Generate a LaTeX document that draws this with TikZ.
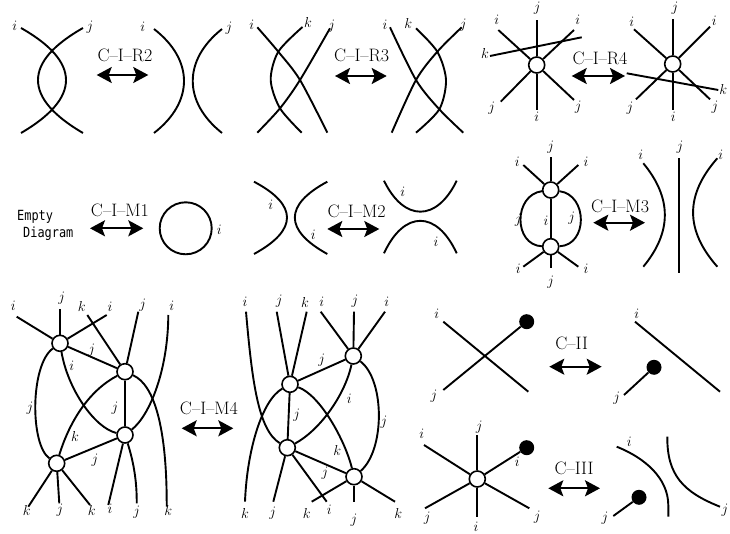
\documentclass[tikz,border=0pt]{standalone}
\usepackage{fontspec}
\newfontfamily\gothic[FakeStretch=0.85]{DejaVu Sans Mono}
\usetikzlibrary{arrows.meta}
\tikzset{
  strand/.style={line width=1.9pt},
  vtx/.style={circle, draw, fill=white, line width=1.6pt, minimum size=16pt, inner sep=0pt},
  bead/.style={circle, fill=black, minimum size=15pt, inner sep=0pt},
  lab/.style={font=\fontsize{14}{14}\selectfont, inner sep=0pt},
  mv/.style={font=\fontsize{18}{18}\selectfont, inner sep=0pt},
  swap/.style={{Stealth[length=15pt,width=16pt,inset=3pt]}-{Stealth[length=15pt,width=16pt,inset=3pt]}, line width=2pt},
  empt/.style={font=\gothic\fontsize{14}{14}\selectfont, inner sep=0pt, anchor=base west},
}
\begin{document}
\begin{tikzpicture}[x=1pt, y=-1pt]
\path[use as bounding box, fill=white] (0,0) rectangle (730,534);

% move arrows and names
\foreach \nm/\xa/\xb/\y/\tx/\ty/\txt in {
    R2/96.7/148.3/75/125/55/{C--I--R2},
    R3/335/386.7/76/361.7/55/{C--I--R3},
    R4/571.7/625/76/600/58/{C--I--R4},
    M1/90/143.3/228.3/120/210/{C--I--M1},
    M2/327.3/379.3/229/356.7/211.7/{C--I--M2},
    M3/593.3/645/222.7/620/206/{C--I--M3},
    M4/181.7/233.3/428.3/209/408.3/{C--I--M4},
    II/549.3/601.7/366.7/571.7/343.3/{C--II},
    III/548.3/600/488.3/574/468.3/{C--III}}{
  \node[mv] (t\nm) at (\tx,\ty) {\txt};
  \coordinate (a\nm) at (\xa,\y);
  \coordinate (b\nm) at (\xb,\y);
  \draw[swap] (a\nm) -- (b\nm);
}

% R2
\draw[strand] (21,28) .. controls (81,62) and (81,98) .. (21,133);
\draw[strand] (83,28) .. controls (23,62) and (23,98) .. (83,133);
\draw[strand] (154,29) .. controls (194,60) and (194,102) .. (154,133);
\draw[strand] (222,29) .. controls (183,60) and (183,102) .. (222,133);

% R3
\draw[strand] plot[smooth] coordinates {(257.3,27.3) (278.3,51.7) (300,80) (327.3,132.7)};
\draw[strand] plot[smooth] coordinates {(330,28.3) (300,80) (280,108.3) (257.3,132.7)};
\draw[strand] plot[smooth] coordinates {(302.5,27) (278.3,51.7) (270.7,80) (280,108.3) (301.7,132.7)};
\draw[strand] plot[smooth] coordinates {(390,27.3) (416,80) (439.3,109.3) (463.3,132.7)};
\draw[strand] plot[smooth] coordinates {(461.7,27.3) (437.3,51.7) (416,80) (391.7,132.7)};
\draw[strand] plot[smooth] coordinates {(416,28.3) (437.3,51.7) (446,80) (439.3,109.3) (416,132.7)};

% R4
\node[vtx] (v4a) at (536.7,65) {};
\node[vtx] (v4b) at (672.7,64) {};
\foreach \p in {(536.7,20),(536.7,110),(498.3,30),(574,30),(500.7,101.7),(574,100)}
  \draw[strand] (v4a) -- \p;
\foreach \p in {(672.7,19.3),(672.7,110),(634,29.3),(710,26.7),(636,99.3),(710,99.3)}
  \draw[strand] (v4b) -- \p;
\draw[strand] (490,56) -- (581.7,37.3);
\draw[strand] (626.7,73.3) -- (718.3,90);

% M1
\node[empt] (empty) at (17,221) {Empty};
\node[empt] (diagram) at (23,237.3) {Diagram};
\node[draw, circle, line width=1.9pt, minimum size=52pt, inner sep=0pt] (loopM1) at (185.7,228.3) {};

% M2
\draw[strand] (254,181.7) .. controls (298,205) and (298,230) .. (254,254);
\draw[strand] (327.3,181.7) .. controls (284,205) and (284,230) .. (327.3,254);
\draw[strand] (384,180.7) .. controls (404,222) and (436.7,222) .. (456.7,180.7);
\draw[strand] (384,253.3) .. controls (404,210) and (436.7,210) .. (456.7,253.3);

% M3
\node[vtx] (u3) at (550.7,190) {};
\node[vtx] (l3) at (550.7,246.7) {};
\foreach \p in {(550.7,157.3),(523.3,165),(578.3,165)}
  \draw[strand] (u3) -- \p;
\foreach \p in {(550.7,268),(523.3,266.7),(578.3,266.7)}
  \draw[strand] (l3) -- \p;
\draw[strand] (u3) -- (l3);
\draw[strand] (u3) .. controls (513.3,195) and (513.3,245) .. (l3);
\draw[strand] (u3) .. controls (588,195) and (588,245) .. (l3);
\draw[strand] (643.3,163.3) .. controls (672,198) and (672,232) .. (643.3,266.7);
\draw[strand] (679.3,158.3) -- (679.3,273.3);
\draw[strand] (717.3,158.3) .. controls (685,195) and (685,230) .. (717.3,266.7);

% M4, left side
\node[vtx] (A) at (60,343.3) {};
\node[vtx] (B) at (125,371.7) {};
\node[vtx] (C) at (125,435) {};
\node[vtx] (D) at (56.7,463.3) {};
\foreach \p in {(16.7,316.7),(60,309.3),(106.7,315)}
  \draw[strand] (A) -- \p;
\foreach \p in {(87.3,315),(138.3,311.7)}
  \draw[strand] (B) -- \p;
\foreach \p in {(28.3,506.7),(59.3,503.3),(90,505)}
  \draw[strand] (D) -- \p;
\draw[strand] (A) -- (B) -- (C) -- (D);
\draw[strand] (A) .. controls (68,390) and (95,428) .. (C);
\draw[strand] (A) .. controls (30,365) and (30,445) .. (D);
\draw[strand] (B) .. controls (90,390) and (70,420) .. (D);
\draw[strand] (B) .. controls (155,385) and (167,430) .. (166.7,506.7);
\draw[strand] (168.3,315) .. controls (168,370) and (150,415) .. (C);
\draw[strand] (C) -- (108.3,505);
\draw[strand] (C) .. controls (133,460) and (137,480) .. (136.7,503.3);

% M4, right side
\node[vtx] (P) at (353.3,356) {};
\node[vtx] (Q) at (290,384.3) {};
\node[vtx] (R) at (287.3,447.7) {};
\node[vtx] (S) at (354,476.7) {};
\foreach \p in {(320.7,311.7),(354,311.7),(385,311.7)}
  \draw[strand] (P) -- \p;
\foreach \p in {(276.7,311.7),(306.7,311.7)}
  \draw[strand] (Q) -- \p;
\foreach \p in {(273.3,501.7),(326.7,501.7)}
  \draw[strand] (R) -- \p;
\foreach \p in {(311.7,501.7),(354,501.7),(395,501.7)}
  \draw[strand] (S) -- \p;
\draw[strand] (P) -- (Q) -- (R) -- (S);
\draw[strand] (246,311.7) .. controls (252,380) and (258,430) .. (R);
\draw[strand] (Q) .. controls (262,400) and (247,450) .. (245,501.7);
\draw[strand] (Q) .. controls (320,395) and (345,440) .. (S);
\draw[strand] (P) .. controls (345,395) and (320,430) .. (R);
\draw[strand] (P) .. controls (385,380) and (385,450) .. (S);

% C-II
\node[bead] (b1) at (526.7,321.7) {};
\node[bead] (b2) at (654,367.3) {};
\draw[strand] (443.3,321.7) -- (528.3,391.7);
\draw[strand] (443.3,390) -- (b1);
\draw[strand] (635,321.7) -- (720,391.7);
\draw[strand] (624,395) -- (b2);

% C-III
\node[vtx] (w) at (477.3,479) {};
\node[bead] (b3) at (526.7,447.7) {};
\node[bead] (b4) at (639,497.3) {};
\foreach \p in {(477.3,435),(477.3,517),(424,445),(425,508.3),(529.3,508.3),(b3)}
  \draw[strand] (w) -- \p;
\draw[strand] (616.7,446.7) .. controls (645,458) and (668,478) .. (668.3,505) -- (668.3,516.7);
\draw[strand] (667.3,436.7) .. controls (667,475) and (683,492) .. (720,506.7);
\draw[strand] (613.3,516) -- (b4);

% strand labels
\foreach \lt/\x/\y [count=\n] in {
    i/14.7/26, j/90/27, i/142.7/27, j/229/28,
    i/251.7/25, k/308/23, j/331.7/26, i/385/25, k/408.3/23.3, j/463.3/25,
    j/537.3/8.3, i/496.7/20, i/577.7/20, k/485/53.3, j/491.7/108.3, j/578.3/106.7, i/536.7/116.7,
    j/675/8.3, i/631.7/21.7, i/714.3/20.7, k/723.3/89.3, j/630/108.3, j/715/107.3, i/673.3/116.7,
    i/219.3/230,
    i/270.7/205, i/313.3/235, i/402.7/191.7, i/436/241.7,
    j/550.7/146.7, i/517.3/161.7, i/586/161.7, j/518.3/220, i/546/220.7, j/571.7/218.3,
    i/518.3/268.3, i/586/268.3, j/550.7/282, i/640.7/155, j/680/146.7, i/720.7/155,
    i/13.3/306, j/61.7/298.3, k/81.7/306.7, i/110/306.7, j/142.7/305, i/171.7/306,
    j/91.7/350, i/71.7/366, j/30/408.3, j/115/408.3, k/75/436.7, j/95/460,
    k/26.7/510, j/60/510, k/91.7/510, i/110/508.3, j/136.7/511.7, k/168.3/510,
    i/245/301.7, j/279.3/300.7, k/305/302.7, i/321.7/301.7, j/355/300.7, i/386.7/301.7,
    j/321.7/360, j/296.7/415, i/349.3/398.3, j/384/421.7, k/337.3/450, j/325/473.3,
    k/245/513.3, j/272.7/513.3, k/306.7/513.3, i/329.3/510, j/354/520, k/398.3/513.3,
    i/436.7/313.3, j/434/396, i/636.7/313.3, j/616.7/398.3,
    j/479.3/426.7, i/421.7/433.3, i/517.3/461.7, j/427.3/518.3, j/537.3/516.7, i/476/526.5,
    i/629.3/441.7, j/605/518.3, j/725/510}
  \node[lab] (lb\n) at (\x,\y) {$\lt$};
\end{tikzpicture}
\end{document}
